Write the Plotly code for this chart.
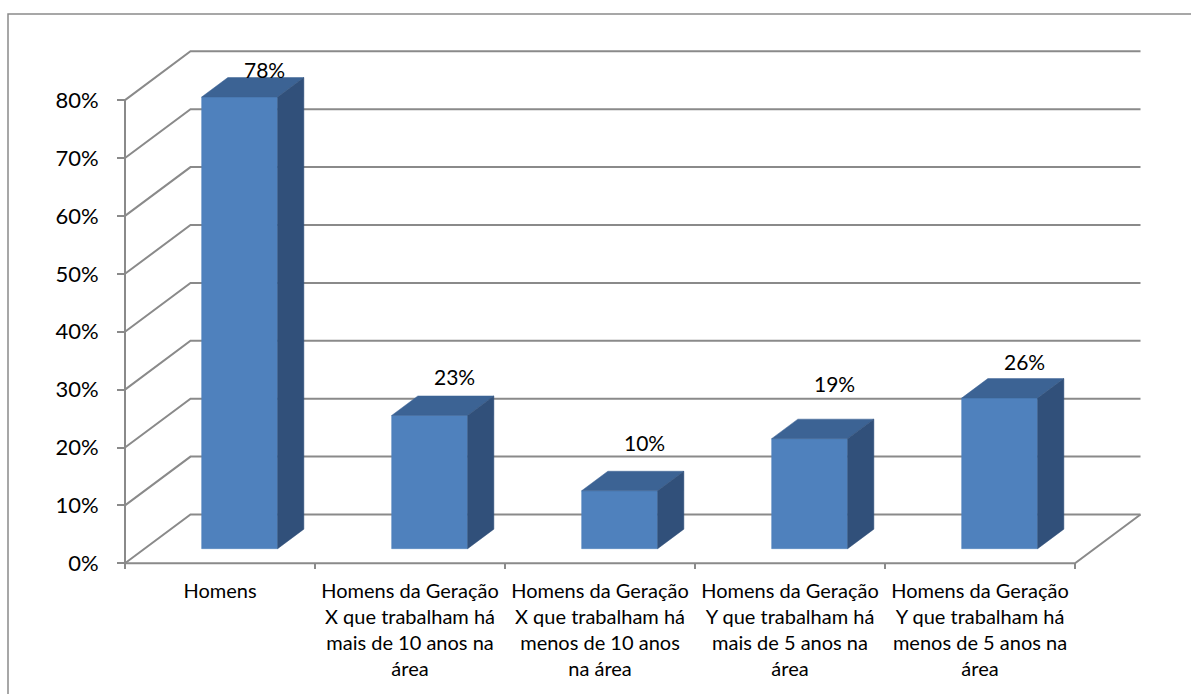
import plotly.graph_objects as go

# ---- data -------------------------------------------------------------
categories = [
    "Homens",
    "Homens da Geração<br>X que trabalham há<br>mais de 10 anos na<br>área",
    "Homens da Geração<br>X que trabalham há<br>menos de 10 anos<br>na área",
    "Homens da Geração<br>Y que trabalham há<br>mais de 5 anos na<br>área",
    "Homens da Geração<br>Y que trabalham há<br>menos de 5 anos na<br>área",
]
values = [78, 23, 10, 19, 26]
y_ticks = [0, 10, 20, 30, 40, 50, 60, 70, 80]
y_tick_labels = ["0%", "10%", "20%", "30%", "40%", "50%", "60%", "70%", "80%"]

# ---- geometry of the oblique 3-D view ---------------------------------
W, H = 1191, 694
X0_PX, Y0_PX = 125, 563.3      # front-left corner of the floor
CAT_PX = 190.0                 # pixels per category slot
PCT_PX = 5.79                  # pixels per percentage point
DEPTH_DX, DEPTH_DY = 65.5, 48.8  # screen shift of the full chart depth
DU = DEPTH_DX / CAT_PX
DV = DEPTH_DY / PCT_PX

BAR_W = 0.4                    # bar width as a share of the slot
BAR_D0, BAR_D1 = 0.3, 0.7      # bar depth span

# extra lift (px) of each value label above its column
label_lift = [-4, 7, 16, 23, 5]

x_range = [-X0_PX / CAT_PX, (W - X0_PX) / CAT_PX]
y_range = [(Y0_PX - H) / PCT_PX, Y0_PX / PCT_PX]

n = len(categories)
y_max = y_ticks[-1]

GRID = "#8a8a8a"
FRONT = "#4f81bd"
TOP = "#3c6394"
SIDE = "#31507a"
FONT = "Lato"


def proj(u, v, d):
    return u + d * DU, v + d * DV


def poly(points):
    xs, ys = zip(*[proj(*p) for p in points])
    return list(xs) + [xs[0]], list(ys) + [ys[0]]


fig = go.Figure()

# walls, floor and gridlines
gx, gy = [], []
for t in y_ticks:
    for p in [(0, t, 0), (0, t, 1), (n, t, 1)]:
        x, y = proj(*p)
        gx.append(x)
        gy.append(y)
    gx.append(None)
    gy.append(None)
for seg in [[(0, 0, 0), (n, 0, 0), (n, 0, 1)], [(0, 0, 0), (0, y_max, 0)]]:
    for p in seg:
        x, y = proj(*p)
        gx.append(x)
        gy.append(y)
    gx.append(None)
    gy.append(None)
fig.add_trace(go.Scatter(x=gx, y=gy, mode="lines",
                         line=dict(color=GRID, width=2),
                         hoverinfo="skip", showlegend=False))

# 3-D columns: front, top and right faces
for i, h in enumerate(values):
    u0 = i + (1 - BAR_W) / 2
    u1 = u0 + BAR_W
    faces = [
        ([(u0, 0, BAR_D0), (u1, 0, BAR_D0), (u1, h, BAR_D0), (u0, h, BAR_D0)], FRONT),
        ([(u0, h, BAR_D0), (u1, h, BAR_D0), (u1, h, BAR_D1), (u0, h, BAR_D1)], TOP),
        ([(u1, 0, BAR_D0), (u1, 0, BAR_D1), (u1, h, BAR_D1), (u1, h, BAR_D0)], SIDE),
    ]
    for pts, col in faces:
        xs, ys = poly(pts)
        fig.add_trace(go.Scatter(x=xs, y=ys, mode="lines", fill="toself",
                                 fillcolor=col, line=dict(color=col, width=0.5),
                                 hoverinfo="skip", showlegend=False))

# value labels above the back edge of each column's top
annotations = []
for i, h in enumerate(values):
    x, y = proj(i + 0.5, h, 0.68)
    annotations.append(dict(
        x=x, y=y, xref="x", yref="y", text=f"{h}%", showarrow=False,
        xanchor="center", yanchor="bottom", yshift=-1 + label_lift[i],
        font=dict(family=FONT, size=21, color="#000000"),
    ))

fig.update_layout(
    width=W, height=H,
    margin=dict(l=0, r=0, t=0, b=0),
    paper_bgcolor="white", plot_bgcolor="white",
    showlegend=False,
    annotations=annotations,
    xaxis=dict(
        range=x_range, anchor="free", position=(H - Y0_PX) / H,
        showgrid=False, zeroline=False, showline=False,
        tickmode="array",
        tickvals=[i + 0.5 for i in range(n)], ticktext=categories,
        ticks="", ticklabelstandoff=14,
        tickfont=dict(family=FONT, size=20, color="#000000"),
        minor=dict(tickvals=list(range(n + 1)), ticks="outside",
                   ticklen=5, tickwidth=2, tickcolor=GRID),
        fixedrange=True,
    ),
    yaxis=dict(
        range=y_range, anchor="free", position=X0_PX / W,
        showgrid=False, zeroline=False, showline=False,
        tickmode="array", tickvals=y_ticks, ticktext=y_tick_labels,
        ticks="outside", ticklen=8, tickwidth=2, tickcolor=GRID,
        ticklabelstandoff=14,
        tickfont=dict(family=FONT, size=22, color="#000000"),
        fixedrange=True,
    ),
    shapes=[dict(type="rect", xref="paper", yref="paper",
                 x0=8 / W, x1=1.02, y0=-0.02, y1=1 - 14 / H,
                 line=dict(color="#8a8a8a", width=1.5), layer="below")],
)

fig.write_html("out.html")
